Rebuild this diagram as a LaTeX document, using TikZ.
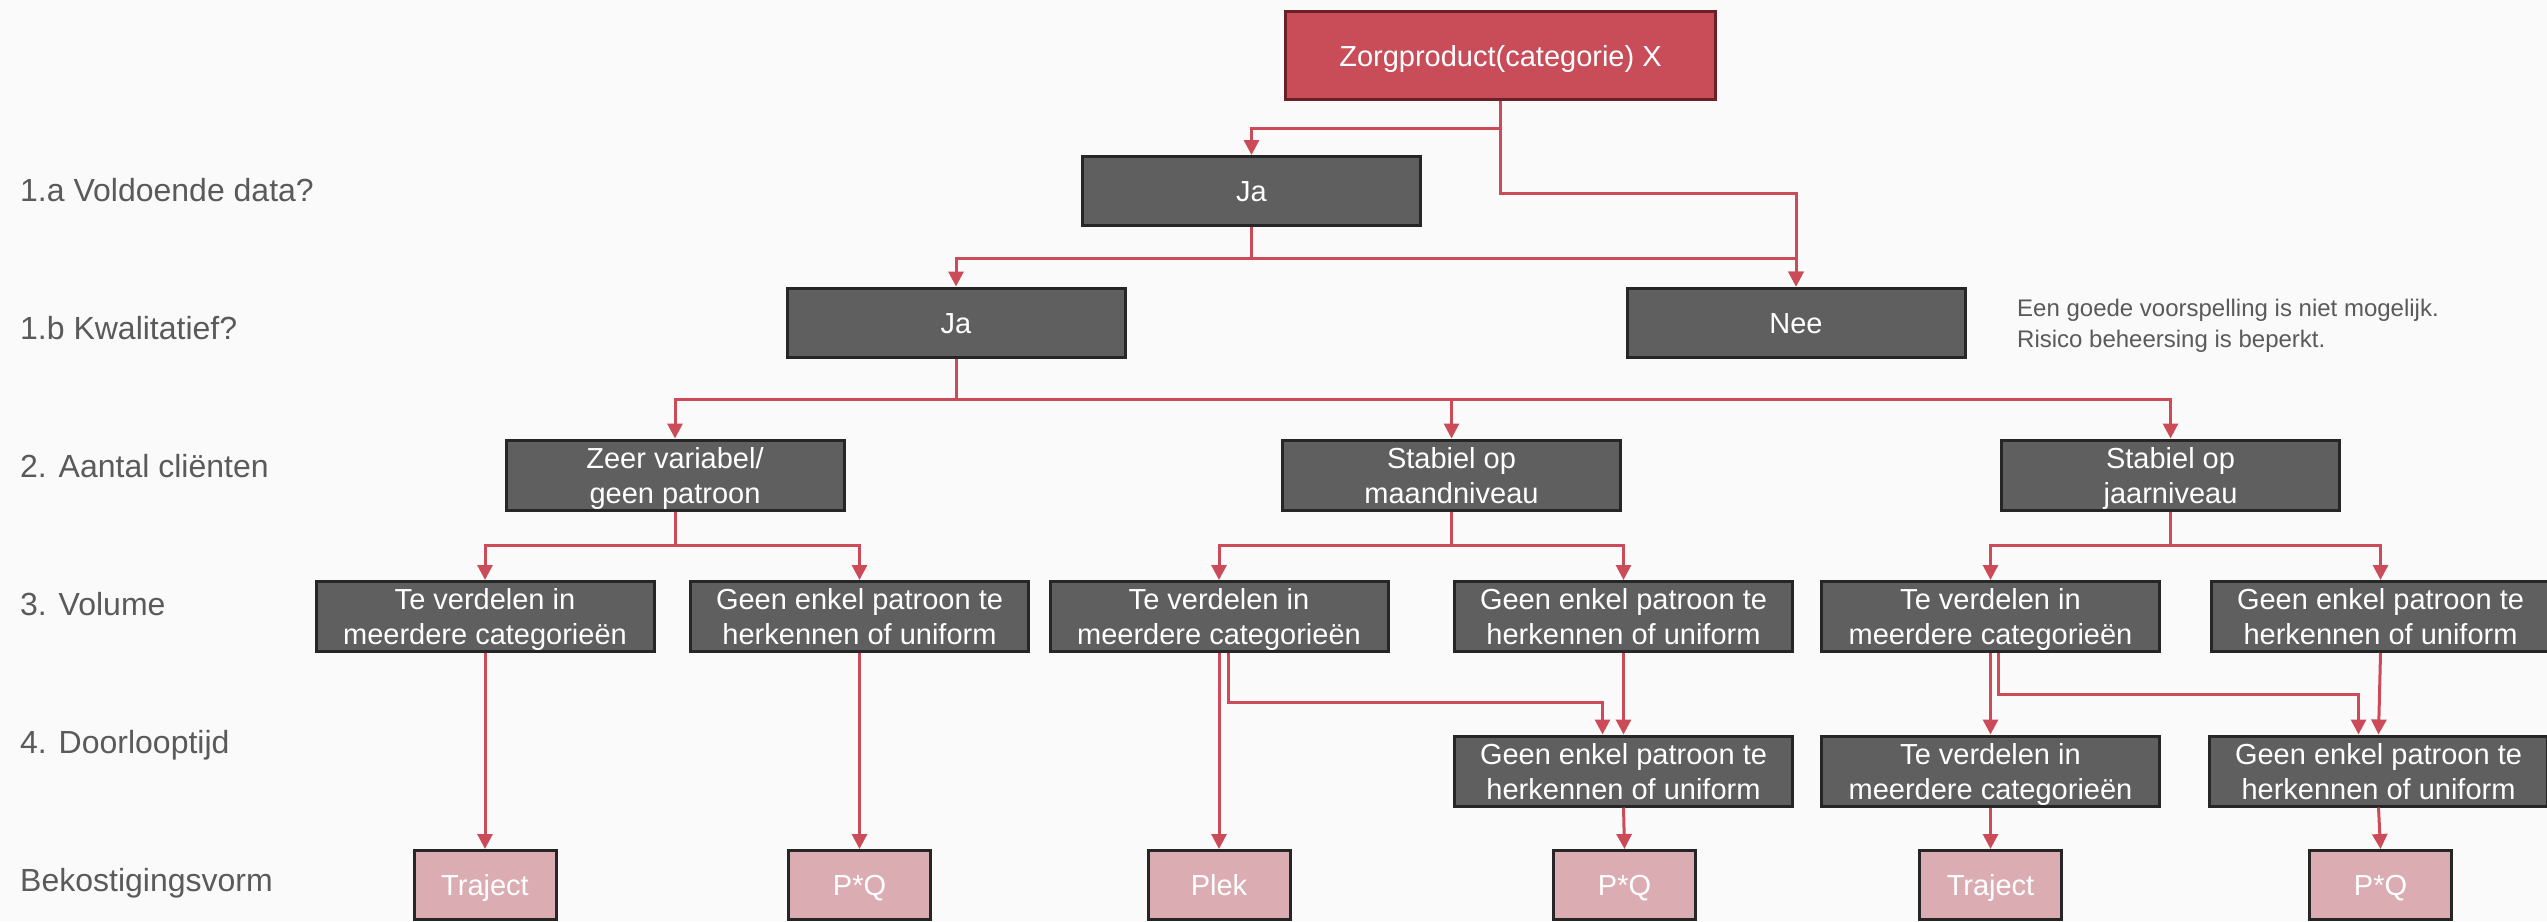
\documentclass[tikz,border=0pt]{standalone}
\usepackage{fontspec}
\setmainfont{Liberation Sans}
\usetikzlibrary{arrows.meta}
\definecolor{bg}{HTML}{FAFAFA}
\definecolor{redline}{HTML}{CC4B59}
\definecolor{topfill}{HTML}{C94C59}
\definecolor{topdraw}{HTML}{6B1F27}
\definecolor{boxfill}{HTML}{5F5F5F}
\definecolor{boxdraw}{HTML}{262626}
\definecolor{pinkfill}{HTML}{DCACB3}
\definecolor{labelgray}{HTML}{5A5A5A}
\newcommand{\boxfnt}{\fontsize{29}{35}\selectfont}
\newcommand{\lblfnt}{\fontsize{32}{38}\selectfont}
\newcommand{\notefnt}{\fontsize{24}{30}\selectfont}
\newcommand{\bs}{\rule[-7pt]{0pt}{35pt}}
\newcommand{\twol}[2]{\bs #1\\\bs #2}
\tikzset{
  x=1pt, y=-1pt,
  darkbox/.style={draw=boxdraw, fill=boxfill, line width=3pt, text=white,
    minimum width=338pt, minimum height=69pt, inner sep=0pt, align=center, font=\boxfnt},
  topbox/.style={darkbox, draw=topdraw, fill=topfill, minimum width=430pt, minimum height=88pt},
  pinkbox/.style={darkbox, fill=pinkfill, minimum width=142pt},
  rowlabel/.style={anchor=base west, text=labelgray, font=\lblfnt, inner sep=0pt},
  note/.style={anchor=base west, text=labelgray, font=\notefnt, inner sep=0pt},
  conn/.style={draw=redline, line width=3pt, -{Triangle[width=15pt,length=15pt]}}
}
\begin{document}
\begin{tikzpicture}
\fill[bg] (0,0) rectangle (2547,921);
\useasboundingbox (0,0) rectangle (2547,921);

% row labels
\node[rowlabel] (la) at (20,201) {1.a Voldoende data?};
\node[rowlabel] (lb) at (20,339) {1.b Kwalitatief?};
\node[rowlabel] (lc) at (20,477) {2. Aantal cliënten};
\node[rowlabel] (ld) at (20,615) {3. Volume};
\node[rowlabel] (le) at (20,753) {4. Doorlooptijd};
\node[rowlabel] (lf) at (20,891) {Bekostigingsvorm};

% nodes
\node[topbox] (top) at (1500.5,55.5) {\bs Zorgproduct(categorie) X};
\node[darkbox] (ja1) at (1251.5,191) {\bs Ja};
\node[darkbox] (ja2) at (956,322.5) {\bs Ja};
\node[darkbox] (nee) at (1796,322.5) {\bs Nee};
\node[note] (n1) at (2017,316) {Een goede voorspelling is niet mogelijk.};
\node[note] (n2) at (2017,347) {Risico beheersing is beperkt.};

\node[darkbox] (zeer) at (675,475) {\twol{Zeer variabel/}{geen patroon}};
\node[darkbox] (maand) at (1451.5,475) {\twol{Stabiel op}{maandniveau}};
\node[darkbox] (jaar) at (2170.5,475) {\twol{Stabiel op}{jaarniveau}};

\node[darkbox] (l3a) at (485,616.5) {\twol{Te verdelen in}{meerdere categorieën}};
\node[darkbox] (l3b) at (859.5,616.5) {\twol{Geen enkel patroon te}{herkennen of uniform}};
\node[darkbox] (m3a) at (1219,616.5) {\twol{Te verdelen in}{meerdere categorieën}};
\node[darkbox] (m3b) at (1623.5,616.5) {\twol{Geen enkel patroon te}{herkennen of uniform}};
\node[darkbox] (r3a) at (1990.5,616.5) {\twol{Te verdelen in}{meerdere categorieën}};
\node[darkbox] (r3b) at (2380.5,616.5) {\twol{Geen enkel patroon te}{herkennen of uniform}};

\node[darkbox] (m4) at (1623.5,771) {\twol{Geen enkel patroon te}{herkennen of uniform}};
\node[darkbox] (r4a) at (1990.5,771) {\twol{Te verdelen in}{meerdere categorieën}};
\node[darkbox] (r4b) at (2378.5,771) {\twol{Geen enkel patroon te}{herkennen of uniform}};

\node[pinkbox] (p1) at (485,885) {\bs Traject};
\node[pinkbox] (p2) at (859.5,885) {\bs P*Q};
\node[pinkbox] (p3) at (1219,885) {\bs Plek};
\node[pinkbox] (p4) at (1624.5,885) {\bs P*Q};
\node[pinkbox] (p5) at (1990.5,885) {\bs Traject};
\node[pinkbox] (p6) at (2380.5,885) {\bs P*Q};

% connectors
\draw[conn] (top.south) -- ++(0,27) -| (ja1.north);
\draw[conn] (top.south) -- ++(0,92) -| (nee.north);
\draw[conn] (ja1.south) -- ++(0,31) -| (ja2.north);
\draw[conn] (ja1.south) -- ++(0,31) -| (nee.north);

\draw[conn] (ja2.south) -- ++(0,41) -| (zeer.north);
\draw[conn] (ja2.south) -- ++(0,41) -| (maand.north);
\draw[conn] (ja2.south) -- ++(0,41) -| (jaar.north);

\draw[conn] (zeer.south) -- ++(0,34) -| (l3a.north);
\draw[conn] (zeer.south) -- ++(0,34) -| (l3b.north);
\draw[conn] (maand.south) -- ++(0,34) -| (m3a.north);
\draw[conn] (maand.south) -- ++(0,34) -| (m3b.north);
\draw[conn] (jaar.south) -- ++(0,34) -| (r3a.north);
\draw[conn] (jaar.south) -- ++(0,34) -| (r3b.north);

\draw[conn] (l3a.south) -- (p1.north);
\draw[conn] (l3b.south) -- (p2.north);
\draw[conn] (m3a.south) -- (p3.north);
\draw[conn] ([xshift=9pt]m3a.south) -- ++(0,49) -| ([xshift=-21pt]m4.north);
\draw[conn] (m3b.south) -- (m4.north);
\draw[conn] (m4.south) -- (p4.north);
\draw[conn] (r3a.south) -- (r4a.north);
\draw[conn] ([xshift=8pt]r3a.south) -- ++(0,41) -| ([xshift=-20pt]r4b.north);
\draw[conn] (r3b.south) -- (r4b.north);
\draw[conn] (r4a.south) -- (p5.north);
\draw[conn] (r4b.south) -- (p6.north);
\end{tikzpicture}
\end{document}
